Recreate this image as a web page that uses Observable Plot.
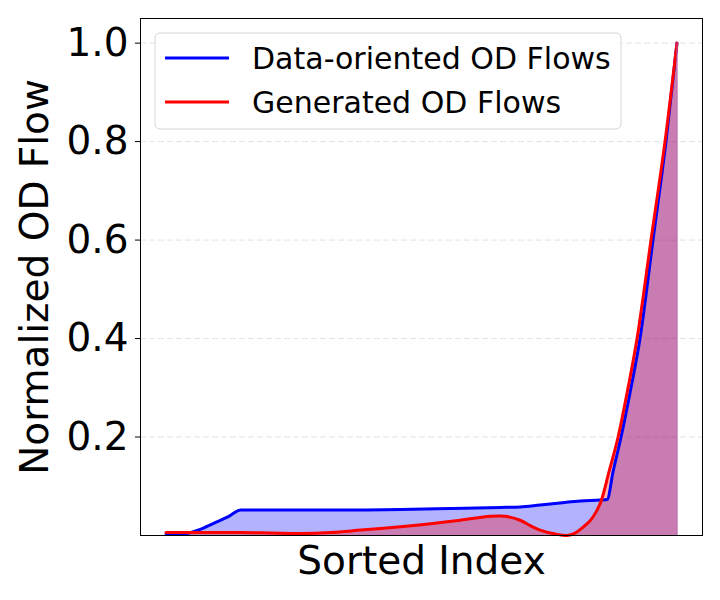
<!DOCTYPE html>
<html>
<head>
<meta charset="utf-8">
<script src="https://cdn.jsdelivr.net/npm/d3@7"></script>
<script src="https://cdn.jsdelivr.net/npm/@observablehq/plot@0.6"></script>
<style>
  html, body { margin: 0; padding: 0; background: white; }
  #chart { width: 720px; height: 600px; }
</style>
</head>
<body>
<div id="chart"></div>
<script>
// Series names
const seriesNames = ["Data-oriented OD Flows", "Generated OD Flows"];
const seriesColors = ["blue", "red"];

// Data-oriented OD flows (sorted index 0..100, normalized flow)
const dataIndex = [0, 3.9, 6.8, 9.8, 12.3, 14.6, 26.4, 36.1, 45.9, 55.7, 65.4, 69.3, 73.2, 77.1, 81.1, 85.0, 86.33, 87.5, 89.06, 90.82, 92.77, 95.31, 97.85, 100];
const dataFlow  = [0.003, 0.004, 0.013, 0.027, 0.039, 0.052, 0.052, 0.052, 0.053, 0.055, 0.057, 0.058, 0.062, 0.066, 0.070, 0.072, 0.073, 0.13, 0.2, 0.29, 0.4, 0.6, 0.8, 1.0];

// Generated OD flows
const genIndex = [0, 6.8, 14.6, 20.5, 26.4, 32.2, 38.1, 45.9, 51.8, 57.6, 63.5, 66.4, 69.3, 71.3, 73.2, 76.2, 78.5, 80.08, 81.64, 83.0, 84.18, 85.16, 86.72, 88.48, 90.43, 92.19, 94.92, 97.66, 100];
const genFlow  = [0.006, 0.006, 0.006, 0.005, 0.004, 0.006, 0.011, 0.018, 0.024, 0.031, 0.039, 0.039, 0.031, 0.020, 0.011, 0.003, 0.0, 0.005, 0.017, 0.03, 0.048, 0.07, 0.13, 0.2, 0.3, 0.4, 0.6, 0.8, 1.0];

// Y ticks
const yTicks = [0.2, 0.4, 0.6, 0.8, 1.0];

const dataRows = dataIndex.map((x, i) => ({x, y: dataFlow[i]}));
const genRows = genIndex.map((x, i) => ({x, y: genFlow[i]}));

const chart = Plot.plot({
  width: 720,
  height: 600,
  marginLeft: 140,
  marginRight: 18,
  marginTop: 18,
  marginBottom: 65,
  x: {domain: [-5, 105], axis: null},
  y: {domain: [0, 1.05], axis: null},
  style: {fontFamily: "DejaVu Sans", background: "white", color: "black"},
  marks: [
    Plot.gridY(yTicks, {stroke: "#b0b0b0", strokeOpacity: 0.35, strokeDasharray: "6,3", strokeWidth: 1}),
    Plot.areaY(dataRows, {x: "x", y: "y", fill: seriesColors[0], fillOpacity: 0.3, curve: "monotone-x"}),
    Plot.areaY(genRows, {x: "x", y: "y", fill: seriesColors[1], fillOpacity: 0.3, curve: "catmull-rom"}),
    Plot.lineY(dataRows, {x: "x", y: "y", stroke: seriesColors[0], strokeWidth: 3, curve: "monotone-x"}),
    Plot.lineY(genRows, {x: "x", y: "y", stroke: seriesColors[1], strokeWidth: 3, curve: "catmull-rom"}),
    Plot.ruleX(genRows.slice(-1), {x: "x", y1: 0, y2: "y", stroke: "#b0509a", strokeWidth: 1.2}),
    Plot.frame({stroke: "black", strokeWidth: 1}),
    Plot.axisY(yTicks, {tickFormat: d3.format(".1f"), fontSize: 39, tickSize: 5, tickPadding: 7, label: null}),
    Plot.text(["Sorted Index"], {frameAnchor: "bottom", dy: 38, fontSize: 39, textAnchor: "middle"}),
    Plot.text(["Normalized OD Flow"], {frameAnchor: "left", dx: -105, rotate: -90, fontSize: 39, textAnchor: "middle", lineAnchor: "middle"})
  ]
});

// Legend inside the plot area
const svg = d3.select(chart);
const lg = svg.append("g").attr("text-anchor", "start");
lg.append("rect")
  .attr("x", 155).attr("y", 33).attr("width", 466).attr("height", 96)
  .attr("rx", 5).attr("fill", "white").attr("fill-opacity", 0.8)
  .attr("stroke", "#d6d6d6").attr("stroke-width", 1);
seriesNames.forEach((name, i) => {
  const yy = 58 + i * 44;
  lg.append("line")
    .attr("x1", 165).attr("x2", 229).attr("y1", yy).attr("y2", yy)
    .attr("stroke", seriesColors[i]).attr("stroke-width", 3);
  lg.append("text")
    .attr("x", 252).attr("y", yy).attr("dy", "0.35em")
    .attr("text-anchor", "start")
    .attr("font-size", 30).attr("font-family", "DejaVu Sans").attr("fill", "black")
    .text(name);
});

document.getElementById("chart").appendChild(chart);
</script>
</body>
</html>
